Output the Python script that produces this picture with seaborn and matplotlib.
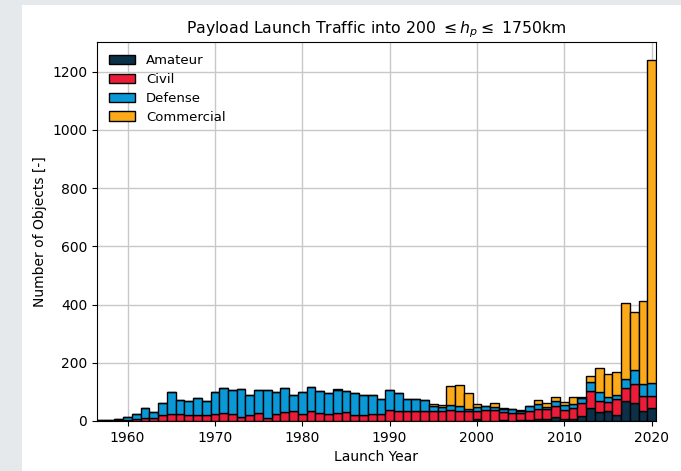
import numpy as np
import pandas as pd
import matplotlib
matplotlib.use("Agg")
import matplotlib.pyplot as plt
import seaborn as sns
from matplotlib.patches import Patch, Rectangle

# Jahre und Anzahl Nutzlasten je Kategorie
years = list(range(1957, 2021))
amateur = [0, 0, 0, 0, 1, 0, 0, 0, 1, 0, 0, 0, 0, 1, 0, 1, 0, 1, 0, 0,
           0, 1, 0, 0, 1, 0, 0, 0, 0, 0, 0, 0, 0, 1, 0, 0, 0, 0, 0, 0,
           0, 0, 0, 8, 0, 0, 3, 0, 2, 3, 7, 6, 15, 6, 7, 16, 43, 30, 33, 21,
           68, 62, 35, 44]
civil = [1, 1, 2, 3, 7, 12, 10, 20, 23, 24, 22, 22, 19, 24, 27, 24, 14, 18, 28, 9,
         23, 31, 35, 25, 35, 27, 25, 28, 30, 21, 21, 23, 23, 38, 36, 34, 36, 36, 36, 36,
         38, 35, 34, 25, 38, 38, 29, 29, 27, 32, 33, 35, 37, 31, 38, 45, 61, 40, 31, 54,
         47, 64, 51, 41]
defense = [1, 2, 4, 12, 15, 34, 20, 42, 77, 48, 48, 57, 48, 76, 87, 81, 97, 70, 79, 99,
           76, 83, 56, 73, 81, 76, 72, 79, 74, 76, 68, 67, 53, 67, 60, 41, 38, 37, 16, 12,
           17, 16, 6, 15, 12, 9, 10, 12, 6, 17, 18, 8, 15, 18, 14, 18, 29, 30, 19, 14,
           30, 50, 41, 44]
commercial = [0, 0, 0, 0, 0, 0, 0, 0, 0, 0, 0, 0, 0, 0, 0, 0, 0, 0, 0, 0,
              0, 0, 0, 0, 0, 0, 0, 2, 0, 0, 0, 0, 0, 0, 0, 0, 0, 0, 7, 8,
              64, 74, 57, 12, 2, 16, 4, 0, 2, 0, 15, 14, 14, 11, 22, 4, 20, 83, 79, 78,
              259, 199, 285, 1111]

categories = ["Amateur", "Civil", "Defense", "Commercial"]
colors = ["#0b3048", "#ec1c38", "#0a98d6", "#fcaa1a"]

df = pd.DataFrame({
    "year": years * 4,
    "type": np.repeat(categories, len(years)),
    "count": amateur + civil + defense + commercial,
})

fig = plt.figure(figsize=(6.81, 4.71), dpi=100)
fig.patches.append(Rectangle((0, 0), 22 / 681, 1, transform=fig.transFigure,
                             facecolor="#e6e9ec", edgecolor="none", zorder=-1))
fig.patches.append(Rectangle((0, 1 - 5 / 471), 1, 5 / 471, transform=fig.transFigure,
                             facecolor="#e6e9ec", edgecolor="none", zorder=-1))
ax = fig.add_axes([97 / 681, 50 / 471, 559 / 681, 379 / 471])

# seaborn stapelt die letzte Stufe unten -> Reihenfolge umdrehen
sns.histplot(data=df, x="year", weights="count", hue="type",
             hue_order=categories[::-1], palette=colors[::-1],
             multiple="stack", discrete=True, shrink=1.0,
             edgecolor="black", linewidth=1, alpha=1, legend=False, ax=ax)

ax.set_axisbelow(True)
ax.grid(True, color="#c8c8c8", linewidth=1)
ax.set_xlim(1956.5, 2020.5)
ax.set_ylim(0, 1302)
ax.set_xticks(range(1960, 2021, 10))
ax.set_yticks(range(0, 1201, 200))
ax.tick_params(labelsize=10)
ax.set_xlabel("Launch Year", fontsize=10)
ax.set_ylabel("Number of Objects [-]", fontsize=10)
ax.set_title(r"Payload Launch Traffic into 200 $\leq h_p \leq$ 1750km", fontsize=11.3)

handles = [Patch(facecolor=c, edgecolor="black", label=l) for l, c in zip(categories, colors)]
ax.legend(handles=handles, loc="upper left", frameon=False, fontsize=9.5,
          labelspacing=0.45)

fig.savefig("out.png", dpi=100)
